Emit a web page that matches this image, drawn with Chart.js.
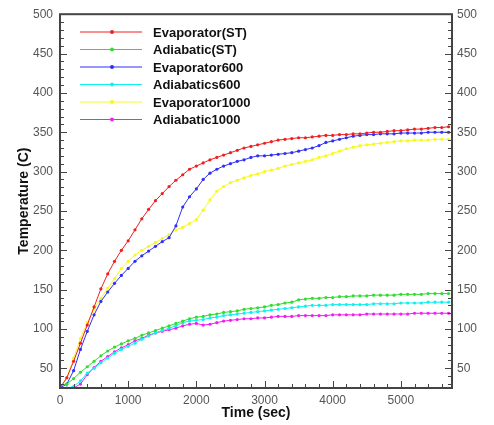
<!DOCTYPE html>
<html>
<head>
<meta charset="utf-8">
<script src="https://cdn.jsdelivr.net/npm/chart.js@4.4.1/dist/chart.umd.min.js"></script>
<style>
  html, body { margin: 0; padding: 0; background: #fff; }
</style>
</head>
<body>
<canvas id="tempChart" width="494" height="425"></canvas>
<script>
// time axis (sec) shared by every series
const times = [0, 100, 200, 300, 400, 500, 600, 700, 800, 900,
  1000, 1100, 1200, 1300, 1400, 1500, 1600, 1700, 1800, 1900,
  2000, 2100, 2200, 2300, 2400, 2500, 2600, 2700, 2800, 2900,
  3000, 3100, 3200, 3300, 3400, 3500, 3600, 3700, 3800, 3900,
  4000, 4100, 4200, 4300, 4400, 4500, 4600, 4700, 4800, 4900,
  5000, 5100, 5200, 5300, 5400, 5500, 5600, 5700];

const evaporatorST = [25, 38, 59, 82, 105, 128, 151, 170, 186, 200,
  212, 226, 240, 252, 263, 272, 281, 289, 296, 303,
  307, 311, 315, 318, 321, 324, 327, 330, 332, 334,
  336, 338, 340, 341, 342, 343, 343, 344, 345, 346,
  346, 347, 347, 348, 348, 349, 350, 350, 351, 352,
  352, 353, 354, 354, 355, 356, 356, 357];

const adiabaticST = [28, 30, 37, 45, 52, 59, 66, 72, 77, 81,
  85, 88, 92, 95, 98, 101, 104, 107, 110, 113,
  115, 116, 118, 119, 121, 122, 123, 125, 126, 127,
  128, 130, 131, 133, 134, 137, 138, 139, 139, 140,
  140, 141, 141, 142, 142, 142, 143, 143, 143, 143,
  144, 144, 144, 144, 145, 145, 145, 145];

const evaporator600 = [25, 30, 47, 74, 97, 118, 135, 147, 158, 168,
  177, 186, 193, 199, 205, 211, 216, 231, 255, 268,
  278, 290, 298, 303, 307, 310, 313, 315, 318, 320,
  320, 321, 322, 323, 324, 326, 328, 330, 333, 337,
  339, 341, 343, 345, 346, 347, 347, 348, 348, 348,
  349, 349, 349, 349, 350, 350, 350, 350];

const adiabatics600 = [25, 25, 27, 34, 44, 50, 57, 63, 69, 74,
  78, 82, 87, 91, 95, 98, 101, 104, 108, 110,
  111, 112, 114, 115, 117, 118, 119, 120, 121, 122,
  123, 124, 125, 126, 127, 128, 129, 130, 130, 130,
  131, 131, 131, 131, 131, 131, 132, 132, 132, 132,
  133, 133, 133, 133, 134, 134, 134, 134];

const evaporator1000 = [25, 38, 63, 88, 108, 125, 139, 152, 164, 177,
  186, 194, 200, 205, 210, 215, 220, 226, 229, 234,
  239, 251, 264, 275, 281, 286, 289, 292, 295, 297,
  300, 302, 304, 307, 309, 311, 313, 315, 318, 320,
  323, 326, 329, 331, 333, 334, 335, 336, 337, 338,
  339, 339, 340, 340, 340, 341, 341, 341];

const adiabatic1000 = [25, 25, 25, 30, 42, 51, 59, 65, 71, 76,
  80, 85, 88, 92, 95, 97, 99, 101, 104, 106,
  107, 105, 106, 108, 110, 111, 112, 113, 113, 114,
  114, 115, 116, 116, 116, 117, 117, 117, 117, 117,
  118, 118, 118, 118, 118, 119, 119, 119, 119, 119,
  119, 119, 120, 120, 120, 120, 120, 120];

const seriesNames = ['Evaporator(ST)', 'Adiabatic(ST)', 'Evaporator600',
  'Adiabatics600', 'Evaporator1000', 'Adiabatic1000'];
const seriesValues = [evaporatorST, adiabaticST, evaporator600,
  adiabatics600, evaporator1000, adiabatic1000];
const seriesColors = ['#f02020', '#30dd30', '#3030f8', '#10f0f0', '#f8f820', '#f020f0'];

const xTicks = [0, 1000, 2000, 3000, 4000, 5000];
const yTicks = [50, 100, 150, 200, 250, 300, 350, 400, 450, 500];

const tickFont = { family: 'Liberation Sans, Arial, sans-serif', size: 12 };
const titleFont = { family: 'Liberation Sans, Arial, sans-serif', size: 14, weight: 'bold' };

const datasets = seriesValues.map((vals, i) => ({
  label: seriesNames[i],
  data: times.map((t, j) => ({ x: t, y: vals[j] })),
  borderColor: seriesColors[i],
  backgroundColor: seriesColors[i],
  borderWidth: 1,
  pointRadius: 1.6,
  pointBorderWidth: 0,
  tension: 0
}));

// box, inward ticks and the legend inside the plot
const framePlugin = {
  id: 'framePlugin',
  afterDraw(chart) {
    const ctx = chart.ctx;
    const a = chart.chartArea;
    const xs = chart.scales.x;
    const ys = chart.scales.y;
    ctx.save();
    ctx.strokeStyle = '#444';
    ctx.lineWidth = 1;
    ctx.beginPath();
    for (let v = 0; v <= 5750; v += 200) {
      const px = Math.round(xs.getPixelForValue(v)) + 0.5;
      const len = v % 1000 === 0 ? 7 : 4;
      ctx.moveTo(px, a.bottom); ctx.lineTo(px, a.bottom - len);
    }
    for (let v = 30; v <= 500; v += 10) {
      const py = Math.round(ys.getPixelForValue(v)) + 0.5;
      const len = v % 50 === 0 ? 7 : 4;
      ctx.moveTo(a.left, py); ctx.lineTo(a.left + len, py);
      ctx.moveTo(a.right, py); ctx.lineTo(a.right - len, py);
    }
    ctx.stroke();
    ctx.lineWidth = 2;
    ctx.strokeRect(a.left, a.top, a.right - a.left, a.bottom - a.top);

    // legend
    ctx.font = 'bold 13px Liberation Sans, Arial, sans-serif';
    ctx.textBaseline = 'middle';
    ctx.textAlign = 'left';
    seriesNames.forEach((name, i) => {
      const y = 32 + i * 17.5;
      ctx.strokeStyle = seriesColors[i];
      ctx.fillStyle = seriesColors[i];
      ctx.lineWidth = 1;
      ctx.beginPath();
      ctx.moveTo(80, y); ctx.lineTo(142, y);
      ctx.stroke();
      ctx.beginPath();
      ctx.arc(112, y, 2, 0, Math.PI * 2);
      ctx.fill();
      ctx.fillStyle = '#111';
      ctx.fillText(name, 153, y + 1);
    });
    ctx.restore();
  }
};

const ctx = document.getElementById('tempChart').getContext('2d');
const tempChart = new Chart(ctx, {
  type: 'line',
  data: { datasets: datasets },
  options: {
    responsive: false,
    maintainAspectRatio: false,
    animation: false,
    layout: { padding: { top: 12, left: 0, right: 0, bottom: 0 } },
    plugins: {
      legend: { display: false },
      tooltip: { enabled: false }
    },
    scales: {
      x: {
        type: 'linear',
        min: 0,
        max: 5750,
        afterBuildTicks: s => { s.ticks = xTicks.map(v => ({ value: v })); },
        afterFit: s => { s.height = 37; },
        grid: { display: false, drawTicks: false },
        border: { display: false },
        ticks: { font: tickFont, color: '#555', padding: 5, maxRotation: 0, autoSkip: false, callback: v => String(v) },
        title: { display: true, text: 'Time (sec)', font: titleFont, color: '#111', padding: { top: 0, bottom: 3 } }
      },
      y: {
        type: 'linear',
        position: 'left',
        min: 25,
        max: 500,
        afterBuildTicks: s => { s.ticks = yTicks.map(v => ({ value: v })); },
        afterFit: s => { s.width = 60; },
        grid: { display: false, drawTicks: false },
        border: { display: false },
        ticks: { font: tickFont, color: '#555', padding: 7, autoSkip: false, callback: v => String(v) },
        title: { display: true, text: 'Temperature (C)', font: titleFont, color: '#111', padding: { top: 16, bottom: 0 } }
      },
      y2: {
        type: 'linear',
        position: 'right',
        display: true,
        min: 25,
        max: 500,
        afterBuildTicks: s => { s.ticks = yTicks.map(v => ({ value: v })); },
        afterFit: s => { s.width = 42; },
        grid: { display: false, drawTicks: false },
        border: { display: false },
        ticks: { font: tickFont, color: '#555', padding: 5, autoSkip: false, callback: v => String(v) }
      }
    }
  },
  plugins: [framePlugin]
});
</script>
</body>
</html>
